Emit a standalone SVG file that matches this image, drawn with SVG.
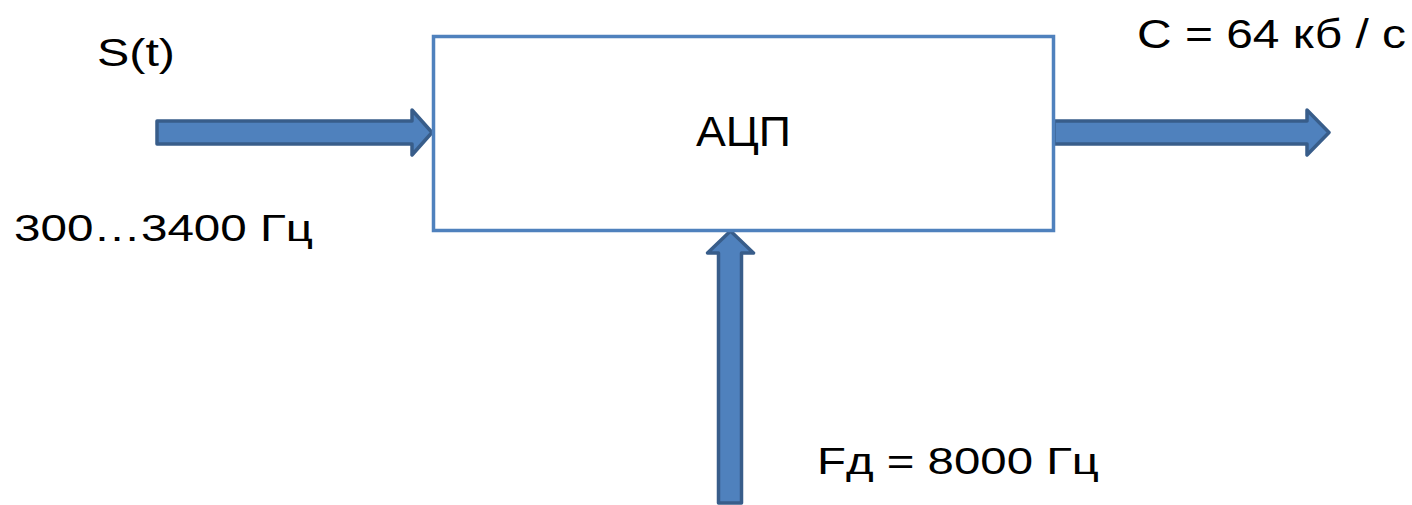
<svg xmlns="http://www.w3.org/2000/svg" width="1412" height="505" viewBox="0 0 1412 505">
  <style>
    .arrow { fill: #4f81bd; stroke: #385d8a; stroke-width: 3.5; stroke-linejoin: round; }
    .block { fill: #ffffff; stroke: #4f81bd; stroke-width: 3.5; }
    .label { font-family: "Liberation Sans", Arial, sans-serif; fill: #000000; }
  </style>
  <rect width="1412" height="505" fill="#ffffff"/>

  <!-- block arrows: input, output, sampling clock -->
  <g id="connectors">
    <polygon id="arrow-in" class="arrow" points="157,121 412,121 412,110 432,132.5 412,155 412,144 157,144"/>
    <polygon id="arrow-out" class="arrow" points="1054,121 1307,121 1307,110 1329,132.5 1307,155 1307,144 1054,144"/>
    <polygon id="arrow-clock" class="arrow" points="718.5,503 718.5,253 707.5,253 730.5,231 753.5,253 741.5,253 741.5,503"/>
  </g>

  <!-- converter block -->
  <g id="adc">
    <rect class="block" x="433.5" y="36.5" width="620" height="194"/>
    <text class="label" x="696" y="146" font-size="42" textLength="95" lengthAdjust="spacingAndGlyphs">АЦП</text>
  </g>

  <g id="signal-label">
    <text class="label" x="97" y="66" font-size="39" textLength="78" lengthAdjust="spacingAndGlyphs">S(t)</text>
  </g>

  <g id="band-label">
    <text class="label" x="14" y="241" font-size="37" textLength="299" lengthAdjust="spacingAndGlyphs">300…3400 Гц</text>
  </g>

  <g id="rate-label">
    <text class="label" x="1137" y="48" font-size="40" textLength="269" lengthAdjust="spacingAndGlyphs">C = 64 кб / с</text>
  </g>

  <g id="clock-label">
    <text class="label" x="817" y="474" font-size="37" textLength="282" lengthAdjust="spacingAndGlyphs">Fд = 8000 Гц</text>
  </g>
</svg>
